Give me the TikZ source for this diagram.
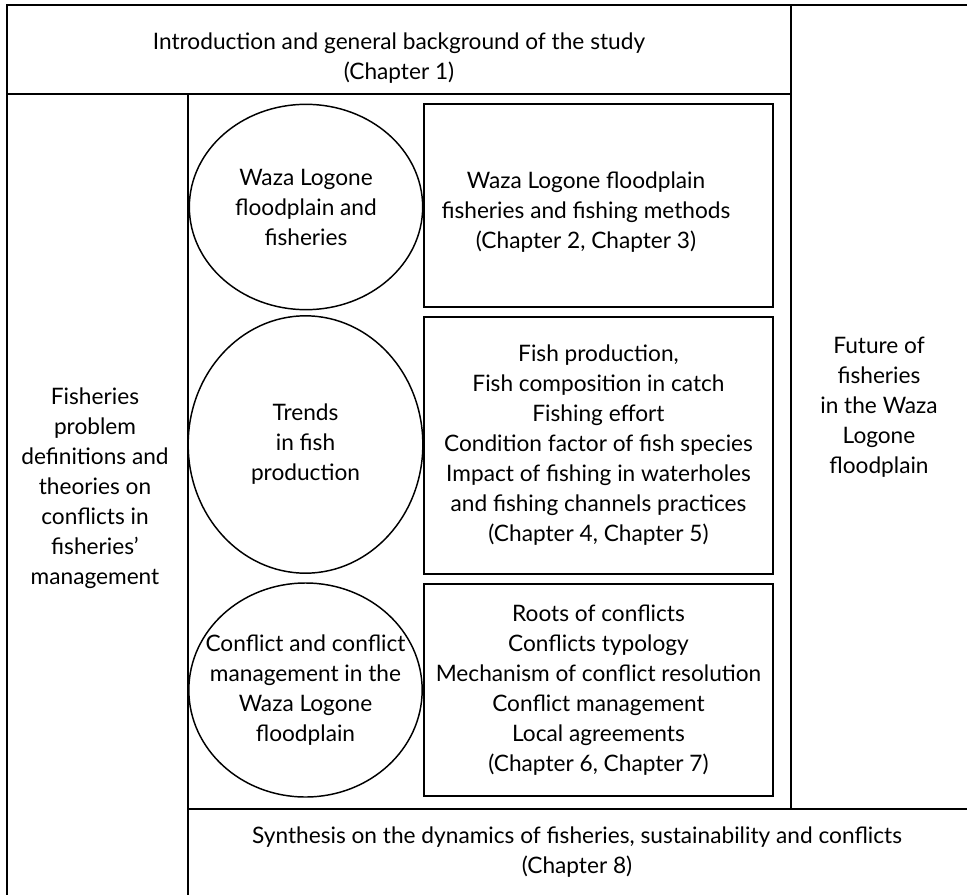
\documentclass[tikz,border=0pt]{standalone}
\usepackage{fontspec}
\setmainfont{Lato}
\usetikzlibrary{shapes.geometric}

\newcommand{\chapfont}{\fontsize{17}{22.5}\selectfont}

\tikzset{
  frame/.style = {line width=1.5pt},
  bubble/.style = {draw, ellipse, line width=1.1pt, inner sep=0pt},
  chapbox/.style = {draw, rectangle, line width=1.3pt, inner sep=0pt, align=center,
                    minimum width=261.75pt, font=\chapfont},
  txt/.style = {align=center, font=\chapfont}
}

\begin{document}
\begin{tikzpicture}[x=0.75pt, y=-0.75pt]
    \useasboundingbox (0, 0) rectangle (967, 895);

    % outer frame and column rules
    \draw [frame] (7, 895) -- (7, 5) -- (967, 5);
    \draw [frame] (7, 94) -- (791, 94);
    \draw [frame] (791, 5) -- (791, 809);
    \draw [frame] (188, 94) -- (188, 895);
    \draw [frame] (188, 809) -- (967, 809);

    \node [txt] (intro) at (399, 58) {Introduction and general background of the study\\(Chapter 1)};
    \node [txt] (theory) at (95, 488) {Fisheries\\problem\\definitions and\\theories on\\conflicts in\\fisheries'\\management};
    \node [txt] (future) at (879, 407) {Future of\\fisheries\\in the Waza\\Logone\\floodplain};
    \node [txt] (synthesis) at (577, 852) {Synthesis on the dynamics of fisheries, sustainability and conflicts\\(Chapter 8)};

    % themes
    \node [bubble, minimum width=175pt, minimum height=154pt] (floodplain) at (306, 207) {};
    \node [txt] at (floodplain.center) {Waza Logone\\floodplain and\\fisheries};
    \node [bubble, minimum width=176pt, minimum height=193pt] (trends) at (305.5, 444.5) {};
    \node [txt] at (trends.center) {Trends\\in fish\\production};
    \node [bubble, minimum width=175pt, minimum height=160.5pt] (conflict) at (305.5, 690) {};
    \node [txt] at (conflict.center) {Conflict and conflict\\management in the\\Waza Logone\\floodplain};

    % chapters
    \node [chapbox, minimum height=152.25pt] (methods) at (598.5, 205.5) {};
    \node [txt] at (586, 212) {Waza Logone floodplain\\fisheries and fishing methods\\(Chapter 2, Chapter 3)};
    \node [chapbox, minimum height=192.75pt] (production) at (598.5, 445.5) {Fish production,\\Fish composition in catch\\Fishing effort\\Condition factor of fish species\\Impact of fishing in waterholes\\and fishing channels practices\\(Chapter 4, Chapter 5)};
    \node [chapbox, minimum height=159pt] (roots) at (598.5, 690) {Roots of conflicts\\Conflicts typology\\Mechanism of conflict resolution\\Conflict management\\Local agreements\\(Chapter 6, Chapter 7)};
\end{tikzpicture}
\end{document}
